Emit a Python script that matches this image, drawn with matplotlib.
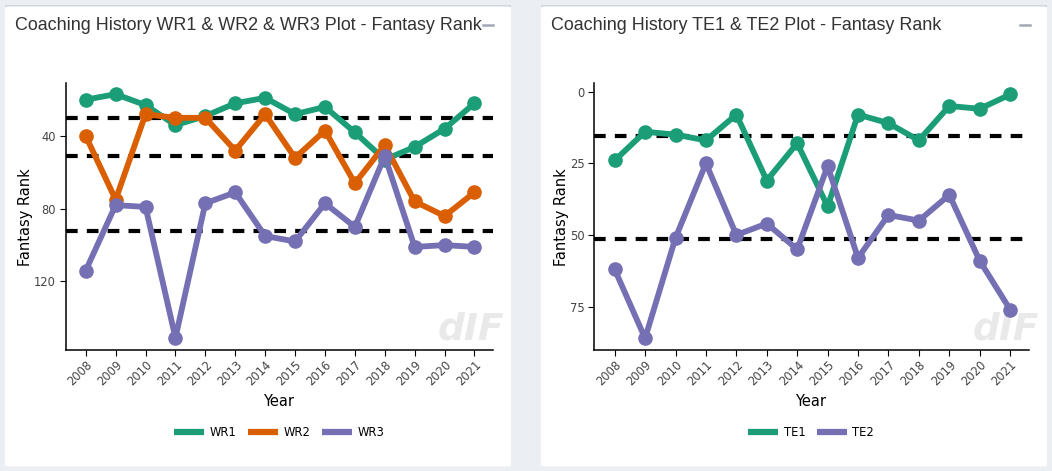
import matplotlib
matplotlib.use("Agg")
import matplotlib.pyplot as plt
from matplotlib.patches import FancyBboxPatch
from matplotlib.lines import Line2D

years = [str(y) for y in range(2008, 2022)]

wr1 = [20, 17, 23, 34, 29, 22, 19, 28, 24, 38, 53, 46, 36, 22]
wr2 = [40, 75, 28, 30, 30, 48, 28, 52, 37, 66, 45, 76, 84, 71]
wr3 = [114, 78, 79, 151, 77, 71, 95, 98, 77, 90, 51, 101, 100, 101]
wr_refs = [30, 51, 92]

te1 = [24, 14, 15, 17, 8, 31, 18, 40, 8, 11, 17, 5, 6, 1]
te2 = [62, 86, 51, 25, 50, 46, 55, 26, 58, 43, 45, 36, 59, 76]
te_refs = [15.5, 51.3]

GREEN, ORANGE, PURPLE = "#1b9e77", "#d95f02", "#7570b3"

W, H = 1052, 471
fig = plt.figure(figsize=(W / 100, H / 100), dpi=100)
fig.patch.set_facecolor("#ebeef3")

def px_rect(x0, y0, x1, y1):
    return [x0 / W, 1 - y1 / H, (x1 - x0) / W, (y1 - y0) / H]

# panels
for (x0, x1) in [(5, 511), (541, 1047)]:
    top = FancyBboxPatch((x0 / W, 1 - 7 / H), (x1 - x0) / W, 2.5 / H,
                         boxstyle="square,pad=0", transform=fig.transFigure,
                         facecolor="#d3d7df", edgecolor="none", zorder=-10)
    body = FancyBboxPatch((x0 / W, 1 - 466.5 / H), (x1 - x0) / W, (466.5 - 6.5) / H,
                          boxstyle="round,pad=0,rounding_size=0.004",
                          transform=fig.transFigure,
                          facecolor="white", edgecolor="none", zorder=-10)
    fig.patches.extend([top, body])

def make_panel(title, tx, minus_x, axrect, series, refs, ylim, yticks,
               ylab_x, leg_x, wm_x):
    fig.text(tx / W, 1 - 25 / H, title, fontsize=12.9, color="#333333",
             family="Liberation Sans", va="center", ha="left")
    fig.lines.append(Line2D([(minus_x) / W, (minus_x + 10) / W],
                            [1 - 25 / H, 1 - 25 / H], transform=fig.transFigure,
                            color="#a3a8b4", lw=1.8))
    fig.text(wm_x / W, 1 - 329 / H, "dIF", fontsize=27, fontweight="black",
             style="italic", color="#e9e9e9", ha="center", va="center",
             zorder=-5)
    ax = fig.add_axes(px_rect(*axrect))
    ax.set_facecolor("none")
    x = list(range(len(years)))
    for name, vals, col in series:
        ax.plot(x, vals, color=col, lw=4.2, marker="o", markersize=9.5,
                label=name, solid_capstyle="round", zorder=3)
    for r in refs:
        ax.axhline(r, color="black", lw=3, dashes=(2.8, 2.2), zorder=2)
    ax.set_xlim(-0.67, 13.63)
    ax.set_ylim(*ylim)
    ax.set_yticks(yticks)
    ax.set_xticks(x)
    ax.set_xticklabels(years, rotation=45, ha="right", va="top",
                       rotation_mode="anchor")
    for s in ["top", "right"]:
        ax.spines[s].set_visible(False)
    for s in ["left", "bottom"]:
        ax.spines[s].set_linewidth(1.1)
    ax.tick_params(axis="both", direction="out", length=4, width=0.8,
                   labelsize=8.3, labelcolor="#444444", pad=3)
    ax.tick_params(axis="x", pad=2)
    fig.text(ylab_x / W, 1 - 216.7 / H, "Fantasy Rank", rotation=90,
             fontsize=10.5, va="center", ha="center", color="black")
    fig.text(leg_x / W, 1 - 401 / H, "Year", fontsize=10.5, va="center",
             ha="center", color="black")
    ax.legend(loc="center", bbox_to_anchor=(leg_x / W, 1 - 433 / H),
              bbox_transform=fig.transFigure, ncol=len(series), frameon=False,
              handlelength=2.6, handletextpad=0.5, columnspacing=1.0,
              fontsize=8.3)
    leg = ax.get_legend()
    for h in leg.legend_handles:
        h.set_marker("")
        h.set_linewidth(4.5)
        h.set_solid_capstyle("butt")
    return ax

make_panel("Coaching History WR1 & WR2 & WR3 Plot - Fantasy Rank", 15, 483,
           (65.7, 83.3, 493.3, 350),
           [("WR1", wr1, GREEN), ("WR2", wr2, ORANGE), ("WR3", wr3, PURPLE)],
           wr_refs, (157.7, 11), [40, 80, 120], 25.5, 279, 471)

make_panel("Coaching History TE1 & TE2 Plot - Fantasy Rank", 551, 1020,
           (594.3, 83.3, 1029.3, 350),
           [("TE1", te1, GREEN), ("TE2", te2, PURPLE)],
           te_refs, (90.1, -2.9), [0, 25, 50, 75], 561.5, 811, 1006)

fig.savefig("out.png", dpi=100, facecolor=fig.get_facecolor())
